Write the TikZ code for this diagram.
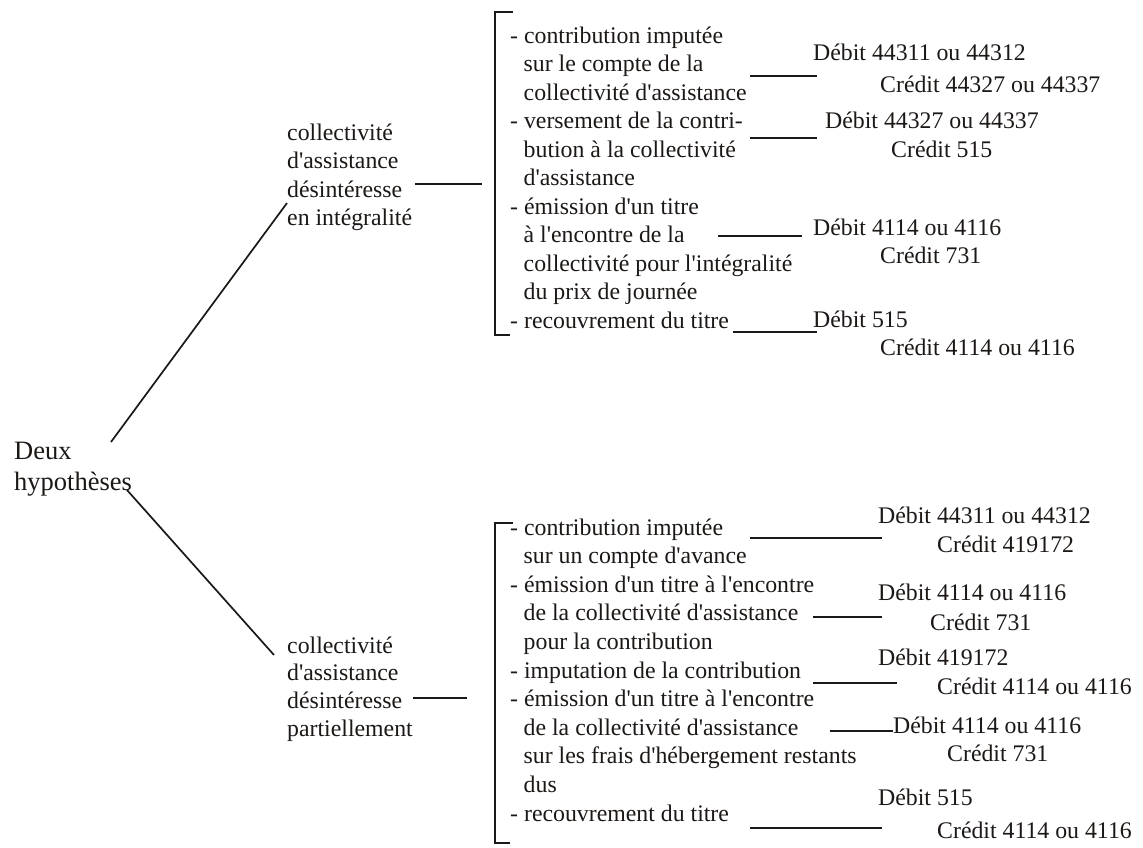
\documentclass[tikz,border=0pt]{standalone}
\usepackage{fontspec}
\setmainfont{Liberation Serif}
\definecolor{ink}{HTML}{1C1816}
\newcommand\ap{\textquotesingle}
\begin{document}
\begin{tikzpicture}[x=1pt,y=-1pt,
  txt/.style={anchor=base west,inner sep=0pt,text=ink,font=\fontsize{23.8}{28.6}\selectfont},
  big/.style={anchor=base west,inner sep=0pt,text=ink,font=\fontsize{26.5}{31}\selectfont},
  link/.style={draw=ink,line width=1.7pt},
  brk/.style={draw=ink,line width=1.8pt}]
\useasboundingbox[fill=white] (0,0) rectangle (1143,847);

% root
\node[big] (deux) at (14,459) {Deux};
\node[big] (hyp) at (14,490) {hypothèses};

% upper label
\node[txt] (u1) at (287,140) {collectivité};
\node[txt] (u2) at (287,168) {d\ap assistance};
\node[txt] (u3) at (287,197) {désintéresse};
\node[txt] (u4) at (287,225) {en intégralité};

% lower label
\node[txt] (l1) at (287,653) {collectivité};
\node[txt] (l2) at (287,680.5) {d\ap assistance};
\node[txt] (l3) at (287,708) {désintéresse};
\node[txt] (l4) at (287,736.5) {partiellement};

% upper bracket items
\node[txt] (t1) at (510,43) {- contribution imputée};
\node[txt] (t2) at (523.5,71.5) {sur le compte de la};
\node[txt] (t3) at (523.5,100) {collectivité d\ap assistance};
\node[txt] (t4) at (510,128.5) {- versement de la contri-};
\node[txt] (t5) at (523.5,157) {bution à la collectivité};
\node[txt] (t6) at (523.5,185.5) {d\ap assistance};
\node[txt] (t7) at (510,214) {- émission d\ap un titre};
\node[txt] (t8) at (523.5,242.5) {à l\ap encontre de la};
\node[txt] (t9) at (523.5,271) {collectivité pour l\ap intégralité};
\node[txt] (t10) at (523.5,299.5) {du prix de journée};
\node[txt] (t11) at (510,328) {- recouvrement du titre};

% upper entries
\node[txt] (r1) at (813,60) {Débit 44311 ou 44312};
\node[txt] (r2) at (880,92) {Crédit 44327 ou 44337};
\node[txt] (r3) at (825,128) {Débit 44327 ou 44337};
\node[txt] (r4) at (891,157) {Crédit 515};
\node[txt] (r5) at (813,235) {Débit 4114 ou 4116};
\node[txt] (r6) at (880,263) {Crédit 731};
\node[txt] (r7) at (813,327) {Débit 515};
\node[txt] (r8) at (880,355) {Crédit 4114 ou 4116};

% lower bracket items
\node[txt] (b1) at (510,535) {- contribution imputée};
\node[txt] (b2) at (523.5,563.6) {sur un compte d\ap avance};
\node[txt] (b3) at (510,592.2) {- émission d\ap un titre à l\ap encontre};
\node[txt] (b4) at (523.5,620.8) {de la collectivité d\ap assistance};
\node[txt] (b5) at (523.5,649.4) {pour la contribution};
\node[txt] (b6) at (510,678) {- imputation de la contribution};
\node[txt] (b7) at (510,706.6) {- émission d\ap un titre à l\ap encontre};
\node[txt] (b8) at (523.5,735.2) {de la collectivité d\ap assistance};
\node[txt] (b9) at (523.5,763.8) {sur les frais d\ap hébergement restants};
\node[txt] (b10) at (523.5,792.4) {dus};
\node[txt] (b11) at (510,821) {- recouvrement du titre};

% lower entries
\node[txt] (s1) at (878,523) {Débit 44311 ou 44312};
\node[txt] (s2) at (937,552) {Crédit 419172};
\node[txt] (s3) at (878,600) {Débit 4114 ou 4116};
\node[txt] (s4) at (930,630) {Crédit 731};
\node[txt] (s5) at (878,665) {Débit 419172};
\node[txt] (s6) at (937,694) {Crédit 4114 ou 4116};
\node[txt] (s7) at (893,733) {Débit 4114 ou 4116};
\node[txt] (s8) at (947,761) {Crédit 731};
\node[txt] (s9) at (878,805) {Débit 515};
\node[txt] (s10) at (937,838) {Crédit 4114 ou 4116};

% connector end points
\coordinate (dA) at (111,442); \coordinate (dB) at (287,203);
\coordinate (dC) at (127,490); \coordinate (dD) at (274,655);
\coordinate (uA) at (415,184); \coordinate (uB) at (482,184);
\coordinate (lA) at (413,698); \coordinate (lB) at (467,698);
\coordinate (ubT) at (495,12); \coordinate (ubB) at (495,335);
\coordinate (lbT) at (495,523); \coordinate (lbB) at (495,843);
\coordinate (c1a) at (750,76);  \coordinate (c1b) at (817,76);
\coordinate (c2a) at (750,138); \coordinate (c2b) at (817,138);
\coordinate (c3a) at (718,236); \coordinate (c3b) at (802,236);
\coordinate (c4a) at (733,332); \coordinate (c4b) at (817,332);
\coordinate (e1a) at (750,538); \coordinate (e1b) at (882,538);
\coordinate (e2a) at (813,617); \coordinate (e2b) at (882,617);
\coordinate (e3a) at (813,683); \coordinate (e3b) at (897,683);
\coordinate (e4a) at (830,731); \coordinate (e4b) at (893,731);
\coordinate (e5a) at (750,828); \coordinate (e5b) at (882,828);

% tree
\draw[link] (dA) -- (dB);
\draw[link] (dC) -- (dD);
\draw[link] (uA) -- (uB);
\draw[link] (lA) -- (lB);

% brackets
\draw[brk] ([xshift=18pt]ubT) -- (ubT) -- (ubB) -- ([xshift=15pt]ubB);
\draw[brk] ([xshift=18pt]lbT) -- (lbT) -- (lbB) -- ([xshift=15pt]lbB);

% item connectors
\foreach \a/\b in {c1a/c1b,c2a/c2b,c3a/c3b,c4a/c4b,e1a/e1b,e2a/e2b,e3a/e3b,e4a/e4b,e5a/e5b}
  \draw[link] (\a) -- (\b);
\end{tikzpicture}
\end{document}
